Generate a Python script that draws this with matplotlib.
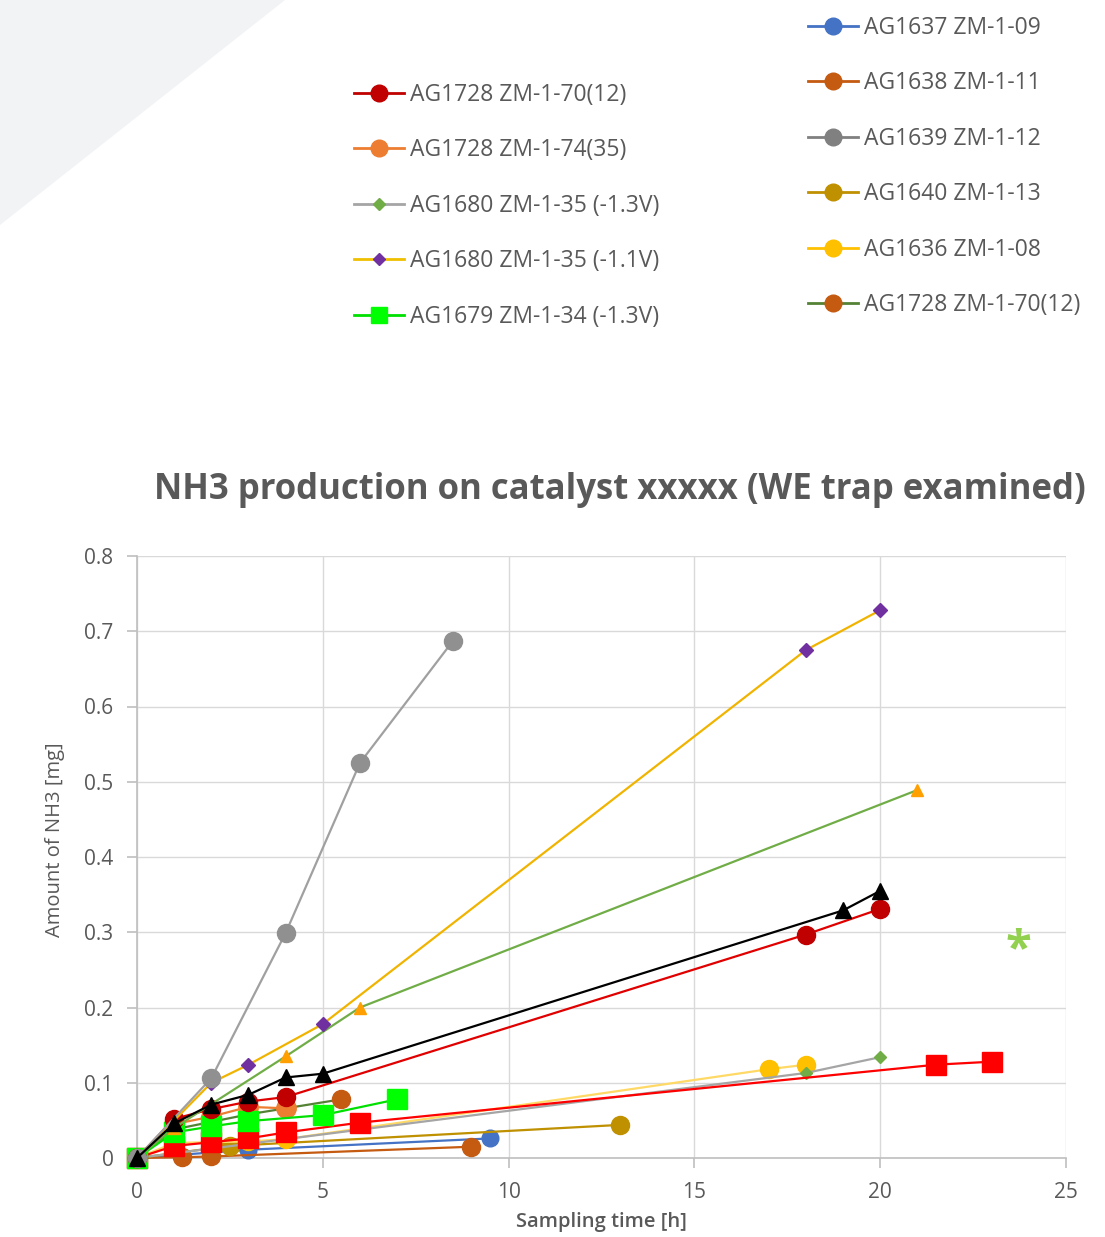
import matplotlib
matplotlib.use("Agg")
import matplotlib.pyplot as plt
from matplotlib.patches import Polygon
from matplotlib.lines import Line2D

# ---------------- data ----------------
x_70_12 = [0, 1, 2, 3, 4, 18, 20]
y_70_12 = [0, 0.052, 0.065, 0.075, 0.081, 0.297, 0.331]

x_74_35 = [0, 1, 2, 3, 4]
y_74_35 = [0, 0.045, 0.055, 0.068, 0.066]

x_35_13 = [0, 18, 20]
y_35_13 = [0, 0.113, 0.134]

x_35_11 = [0, 2, 3, 5, 18, 20]
y_35_11 = [0, 0.100, 0.124, 0.178, 0.675, 0.728]

x_34 = [0, 1, 2, 3, 5, 7]
y_34 = [0, 0.034, 0.042, 0.049, 0.057, 0.078]

x_09 = [0, 3, 9.5]
y_09 = [0, 0.011, 0.026]

x_11 = [0, 1.2, 2, 9]
y_11 = [0, 0.001, 0.002, 0.015]

x_12 = [0, 2, 4, 6, 8.5]
y_12 = [0, 0.106, 0.299, 0.525, 0.687]

x_13 = [0, 2.5, 13]
y_13 = [0, 0.016, 0.044]

x_08 = [0, 1, 2, 3, 4, 17, 18]
y_08 = [0, 0.02, 0.021, 0.022, 0.025, 0.118, 0.124]

x_70b = [0, 1, 2, 3, 5.5]
y_70b = [0, 0.038, 0.048, 0.058, 0.078]

x_black = [0, 1, 2, 3, 4, 5, 19, 20]
y_black = [0, 0.046, 0.071, 0.084, 0.107, 0.112, 0.329, 0.355]

x_tri = [0, 1, 4, 6, 21]
y_tri = [0, 0.04, 0.135, 0.200, 0.489]

x_sq = [0, 1, 2, 3, 4, 6, 21.5, 23]
y_sq = [0, 0.016, 0.021, 0.026, 0.034, 0.047, 0.124, 0.128]

legend_left = ["AG1728 ZM-1-70(12)", "AG1728 ZM-1-74(35)", "AG1680 ZM-1-35 (-1.3V)",
               "AG1680 ZM-1-35 (-1.1V)", "AG1679 ZM-1-34 (-1.3V)"]
legend_right = ["AG1637 ZM-1-09", "AG1638 ZM-1-11", "AG1639 ZM-1-12",
                "AG1640 ZM-1-13", "AG1636 ZM-1-08", "AG1728 ZM-1-70(12)"]

title = "NH3 production on catalyst xxxxx (WE trap examined)"
xlabel = "Sampling time [h]"
ylabel = "Amount of NH3 [mg]"
xticks = [0, 5, 10, 15, 20, 25]
yticks = [0, 0.1, 0.2, 0.3, 0.4, 0.5, 0.6, 0.7, 0.8]
ytick_labels = ["0", "0.1", "0.2", "0.3", "0.4", "0.5", "0.6", "0.7", "0.8"]

# ---------------- figure ----------------
plt.rcParams['font.family'] = ['Open Sans', 'DejaVu Sans']
W, H = 1105, 1237
fig = plt.figure(figsize=(W / 100, H / 100), dpi=100)
fig.patch.set_facecolor("white")

# decorative background triangle
tri = Polygon([(0, 1), (285 / W, 1), (0, 1 - 225 / H)], closed=True,
              transform=fig.transFigure, facecolor="#f2f3f5", edgecolor="none", zorder=0)
fig.patches.append(tri)

ax = fig.add_axes([137 / W, 1 - 1158 / H, (1066 - 137) / W, (1158 - 556) / H])
ax.set_facecolor("none")

TXT = "#595959"
lw = 1.6

def plot(x, y, color, marker, mfc, ms, zorder=3, label=None):
    return ax.plot(x, y, color=color, lw=lw, marker=marker, markersize=ms,
                   markerfacecolor=mfc, markeredgecolor=mfc, zorder=zorder,
                   label=label, clip_on=False)[0]

plot(x_09, y_09, "#4472c4", "o", "#4472c4", 12, 3)
plot(x_11, y_11, "#c55a11", "o", "#c55a11", 13, 3)
plot(x_13, y_13, "#bf9000", "o", "#bf9000", 13, 3)
plot(x_08, y_08, "#ffd966", "o", "#ffc000", 13, 3)
plot(x_70b, y_70b, "#548235", "o", "#c55a11", 13, 3)
plot(x_35_13, y_35_13, "#a5a5a5", "D", "#70ad47", 6, 3)
plot(x_sq, y_sq, "#ff0000", "s", "#ff0000", 14, 4)
plot(x_74_35, y_74_35, "#ed7d31", "o", "#ed7d31", 14, 4)
plot(x_34, y_34, "#00e000", "s", "#00ff00", 14, 4)
plot(x_70_12, y_70_12, "#e00000", "o", "#c00000", 13, 4)
plot(x_tri, y_tri, "#70ad47", "^", "#ffa000", 9, 4)
plot(x_35_11, y_35_11, "#f0b400", "D", "#7030a0", 7, 5)
plot(x_12, y_12, "#a0a0a0", "o", "#909090", 13, 5)
plot(x_black, y_black, "#000000", "^", "#000000", 12, 6)

ax.set_xlim(0, 25)
ax.set_ylim(0, 0.8)
ax.set_xticks(xticks)
ax.set_yticks(yticks)
ax.set_yticklabels(ytick_labels)
ax.grid(True, color="#d9d9d9", lw=1.0)
ax.set_axisbelow(True)
for s in ["top", "right"]:
    ax.spines[s].set_visible(False)
for s in ["left", "bottom"]:
    ax.spines[s].set_color("#bfbfbf")
    ax.spines[s].set_linewidth(1.2)
ax.tick_params(axis="both", colors="#bfbfbf", labelcolor=TXT, labelsize=15,
               length=7, width=1.2)
ax.tick_params(axis="y", pad=10)
ax.tick_params(axis="x", pad=10)

AW = 1066 - 137
AH = 1158 - 556
ax.set_xlabel(xlabel, fontsize=14.5, color=TXT, fontweight="semibold", va="center")
ax.xaxis.set_label_coords((601 - 137) / AW, -(1222 - 1158) / AH)
ax.set_ylabel(ylabel, fontsize=14.5, color=TXT, va="center")
ax.yaxis.set_label_coords(-(137 - 55) / AW, (1158 - 840) / AH)

fig.text(620 / W, 1 - 490 / H, title, ha="center", va="center",
         fontsize=25, fontweight="bold", color=TXT)

fig.text(1018 / W, 1 - 951 / H, "*", ha="center", va="center",
         fontsize=34, fontweight="bold", color="#92d050")

# legends
def proxy(color, marker, mfc, ms):
    return Line2D([], [], color=color, lw=2, marker=marker, markersize=ms,
                  markerfacecolor=mfc, markeredgecolor=mfc)

left_handles = [proxy("#c00000", "o", "#c00000", 12),
                proxy("#ed7d31", "o", "#ed7d31", 12),
                proxy("#a5a5a5", "D", "#70ad47", 6),
                proxy("#f0c000", "D", "#7030a0", 6),
                proxy("#00e000", "s", "#00ff00", 11)]
right_handles = [proxy("#4472c4", "o", "#4472c4", 12),
                 proxy("#c55a11", "o", "#c55a11", 12),
                 proxy("#808080", "o", "#808080", 12),
                 proxy("#bf9000", "o", "#bf9000", 12),
                 proxy("#ffc000", "o", "#ffc000", 12),
                 proxy("#548235", "o", "#c55a11", 12)]

legkw = dict(frameon=False, fontsize=16.5, handlelength=2.2, handletextpad=0.25,
             labelspacing=1.37, borderpad=0, borderaxespad=0, labelcolor=TXT)
leg1 = fig.legend(left_handles, legend_left, loc="upper left",
                  bbox_to_anchor=(354 / W, 1 - 83 / H), **legkw)
leg2 = fig.legend(right_handles, legend_right, loc="upper left",
                  bbox_to_anchor=(808 / W, 1 - 16 / H), **legkw)

fig.savefig("out.png", dpi=100, facecolor="white")
